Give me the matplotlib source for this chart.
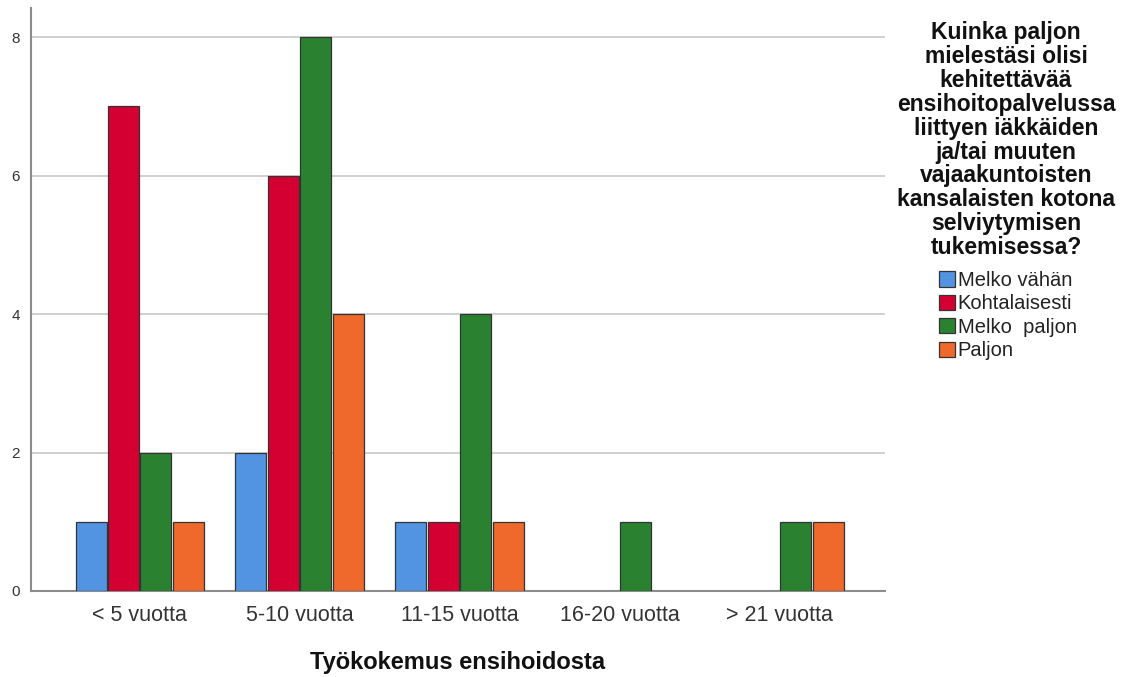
import matplotlib
matplotlib.use("Agg")
import matplotlib.pyplot as plt
import numpy as np

plt.rcParams['font.family'] = ['Liberation Sans', 'DejaVu Sans']

categories = ['< 5 vuotta', '5-10 vuotta', '11-15 vuotta', '16-20 vuotta', '> 21 vuotta']
series_names = ['Melko vähän', 'Kohtalaisesti', 'Melko  paljon', 'Paljon']
melko_vahan = [1, 2, 1, 0, 0]
kohtalaisesti = [7, 6, 1, 0, 0]
melko_paljon = [2, 8, 4, 1, 1]
paljon = [1, 4, 1, 0, 1]
series_values = [melko_vahan, kohtalaisesti, melko_paljon, paljon]
colors = ['#5294E2', '#D50032', '#2A8230', '#F0692C']
legend_title = ("Kuinka paljon\nmielestäsi olisi\nkehitettävää\nensihoitopalvelussa\n"
                "liittyen iäkkäiden\nja/tai muuten\nvajaakuntoisten\nkansalaisten kotona\n"
                "selviytymisen\ntukemisessa?")
y_ticks = [0, 2, 4, 6, 8]

fig = plt.figure(figsize=(11.33, 6.77), dpi=100)
ax = fig.add_axes([31/1133, 86/677, 854/1133, 583/677])

x = np.arange(len(categories))
step = 0.203
width = 0.194
handles = []
for i, (vals, col, name) in enumerate(zip(series_values, colors, series_names)):
    v = np.array(vals, dtype=float)
    v[v == 0] = np.nan
    b = ax.bar(x + (i - 1.5) * step, v, width=width, color=col,
               edgecolor='#333333', linewidth=0.9, label=name, zorder=3)
    handles.append(b)

ax.set_xlim(-0.68, 4.66)
ax.set_ylim(0, 8.42)
ax.set_yticks(y_ticks)
ax.set_yticklabels([str(t) for t in y_ticks], fontsize=11, color='#333333')
ax.set_xticks(x)
ax.set_xticklabels(categories, fontsize=15.5, color='#333333')
ax.tick_params(axis='both', length=0)
ax.tick_params(axis='x', pad=10)
ax.tick_params(axis='y', pad=8)
ax.yaxis.grid(True, color='#C8C8C8', linewidth=1.2, zorder=0)
for s in ['top', 'right']:
    ax.spines[s].set_visible(False)
for s in ['left', 'bottom']:
    ax.spines[s].set_color('#8C8C8C')
    ax.spines[s].set_linewidth(1.5)
ax.set_xlabel('Työkokemus ensihoidosta', fontsize=17, fontweight='bold', labelpad=18,
              color='#111111')

fig.text(1006/1133, 1 - 21/677, legend_title, ha='center', va='top', fontsize=16.5,
         fontweight='bold', linespacing=1.05, color='#111111')

fig.legend(handles=handles, labels=series_names, loc='upper left',
           bbox_to_anchor=(939/1133, 1 - 271/677), frameon=False, fontsize=14.5,
           handlelength=0.78, handleheight=0.78, handletextpad=0.15, labelspacing=0.22,
           borderpad=0, borderaxespad=0, labelcolor='#222222')

fig.savefig('out.png', dpi=100)
